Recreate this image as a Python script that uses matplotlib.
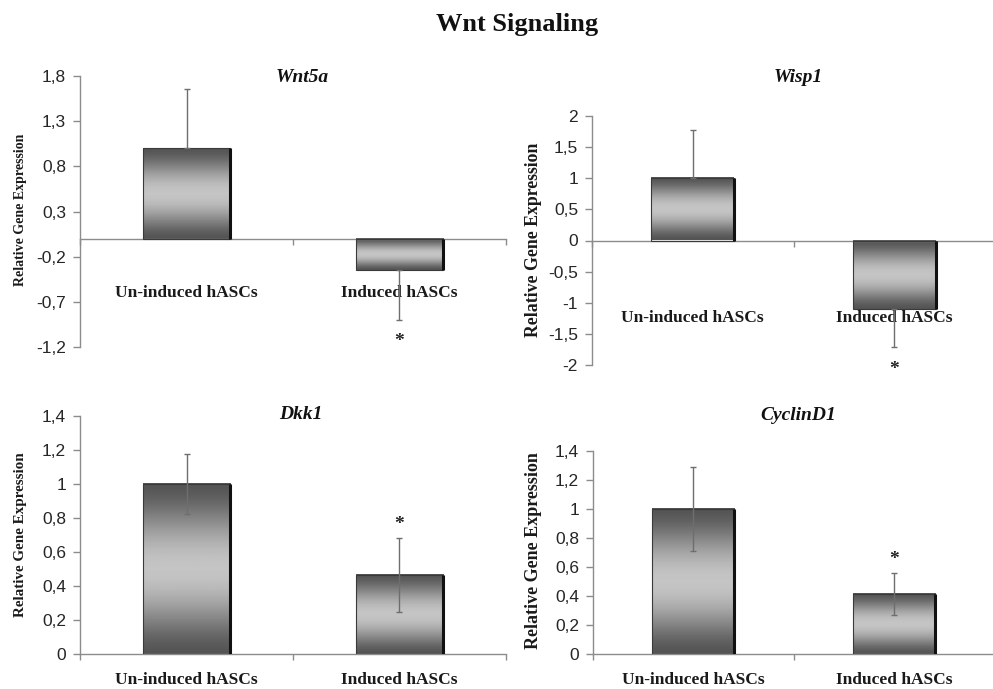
import numpy as np
import matplotlib
matplotlib.use('Agg')
import matplotlib.pyplot as plt
from matplotlib.colors import LinearSegmentedColormap

# data
groups = ['Un-induced hASCs', 'Induced hASCs']
genes = ['Wnt5a', 'Wisp1', 'Dkk1', 'CyclinD1']
wnt5a_mean = [1.0, -0.35]
wnt5a_err = [0.66, 0.55]
wisp1_mean = [1.0, -1.1]
wisp1_err = [0.77, 0.61]
dkk1_mean = [1.0, 0.465]
dkk1_err = [0.175, 0.215]
cyclind1_mean = [1.0, 0.415]
cyclind1_err = [0.288, 0.142]
significant = [False, True]

yticks_wnt5a = [-1.2, -0.7, -0.2, 0.3, 0.8, 1.3, 1.8]
yticks_wisp1 = [-2, -1.5, -1, -0.5, 0, 0.5, 1, 1.5, 2]
yticks_dkk1 = [0, 0.2, 0.4, 0.6, 0.8, 1, 1.2, 1.4]
yticks_cyclind1 = [0, 0.2, 0.4, 0.6, 0.8, 1, 1.2, 1.4]

W, H = 993, 689
fig = plt.figure(figsize=(W / 100, H / 100), dpi=100)

serif = 'Liberation Serif'
sans = 'Liberation Sans'

# vertical grey gradient used by Excel-style bars
prof = np.linspace(0, 1, 200)
shade = 0.33 + 0.44 * np.sin(np.pi * prof) ** 1.6
grad = np.repeat(shade[:, None], 2, axis=1)
cmap = LinearSegmentedColormap.from_list('g', ['black', 'white'])

# panel layout in pixels: left, right, top, bottom (axis extents)
panels = [
    dict(name=genes[0], mean=wnt5a_mean, err=wnt5a_err, yt=yticks_wnt5a, one_sided=True,
         box=(80, 506, 76, 347), title_xy=(0.522, 0.996), lab_y=0.199,
         ylab=(21, 209.5, 10.0)),
    dict(name=genes[1], mean=wisp1_mean, err=wisp1_err, yt=yticks_wisp1, one_sided=True,
         box=(592, 995, 115.7, 365.3), title_xy=(0.511, 1.155), lab_y=0.19,
         ylab=(533, 240, 12.8)),
    dict(name=genes[2], mean=dkk1_mean, err=dkk1_err, yt=yticks_dkk1, one_sided=False,
         box=(80, 506, 415.7, 654.3), title_xy=(0.519, 1.007), lab_y=-0.108,
         ylab=(21, 535, 10.9)),
    dict(name=genes[3], mean=cyclind1_mean, err=cyclind1_err, yt=yticks_cyclind1, one_sided=False,
         box=(593, 994, 450.7, 654.3), title_xy=(0.512, 1.175), lab_y=-0.126,
         ylab=(533, 551, 13.0)),
]

axis_col = '#8c8c8c'
width = 0.41
x = np.array([0.5, 1.5])

for p in panels:
    l, r, t, b = p['box']
    ax = fig.add_axes([l / W, 1 - b / H, (r - l) / W, (b - t) / H])
    ax.patch.set_alpha(0)
    ymin, ymax = p['yt'][0], p['yt'][-1]

    for xi, m in zip(x, p['mean']):
        ax.imshow(grad, extent=[xi - width / 2, xi + width / 2, min(0, m), max(0, m)],
                  aspect='auto', cmap=cmap, vmin=0, vmax=1, zorder=2,
                  interpolation='bilinear')
    ax.bar(x, p['mean'], width=width, facecolor='none', edgecolor='#3a3a3a',
           linewidth=0.8, zorder=3)
    # dark right side of each bar
    for xi, m in zip(x, p['mean']):
        ax.plot([xi + width / 2, xi + width / 2], [0, m], color='#111111', lw=2.2,
                zorder=4, solid_capstyle='butt')

    mean = np.array(p['mean'])
    err = np.array(p['err'])
    if p['one_sided']:
        lower = np.where(mean < 0, err, 0)
        upper = np.where(mean > 0, err, 0)
        yerr = [lower, upper]
    else:
        yerr = err
    ax.errorbar(x, mean, yerr=yerr, fmt='none', ecolor='#6e6e6e', elinewidth=1,
                capsize=2, capthick=1, zorder=5)

    for xi, m, e, s in zip(x, mean, err, significant):
        if not s:
            continue
        if m < 0:
            ax.annotate('*', (xi, m - e), xytext=(0, -22), textcoords='offset pixels',
                        ha='center', va='center', fontsize=14, fontweight='bold',
                        family=serif, color='#222222')
        else:
            ax.annotate('*', (xi, m + e), xytext=(0, 14), textcoords='offset pixels',
                        ha='center', va='center', fontsize=14, fontweight='bold',
                        family=serif, color='#222222')

    ax.set_xlim(0, 2)
    ax.set_ylim(ymin, ymax)
    ax.set_yticks(p['yt'])
    ax.set_yticklabels(['{:g}'.format(v).replace('.', ',') for v in p['yt']],
                       family=sans, fontsize=12.5, color='#262626')
    ax.set_xticks([0, 1, 2])
    ax.set_xticklabels([])
    ax.tick_params(axis='y', direction='out', length=5, width=1, color=axis_col, pad=5)
    ax.tick_params(axis='x', direction='out', length=4, width=1, color=axis_col)
    for s in ['top', 'right']:
        ax.spines[s].set_visible(False)
    ax.spines['left'].set_color(axis_col)
    ax.spines['bottom'].set_color(axis_col)
    ax.spines['bottom'].set_position(('data', 0))
    ax.spines['left'].set_linewidth(1)
    ax.spines['bottom'].set_linewidth(1)

    for xi, g in zip(x, groups):
        ax.text(xi, p['lab_y'], g, transform=ax.get_xaxis_transform(), ha='center',
                va='center', fontsize=12.5, fontweight='bold', family=serif,
                color='#1a1a1a', clip_on=False)

    ax.text(p['title_xy'][0], p['title_xy'][1], p['name'], transform=ax.transAxes,
            ha='center', va='center', fontsize=14, fontweight='bold', style='italic',
            family=serif, color='#111111')

    yx, yy, yfs = p['ylab']
    fig.text(yx / W, 1 - yy / H, 'Relative Gene Expression', rotation=90, ha='center',
             va='center', fontsize=yfs, fontweight='bold', family=serif, color='#1a1a1a')

fig.text(517 / W, 1 - 25 / H, 'Wnt Signaling', ha='center', va='center', fontsize=19,
         fontweight='bold', family=serif, color='#111111')

fig.savefig('out.png', dpi=100)
